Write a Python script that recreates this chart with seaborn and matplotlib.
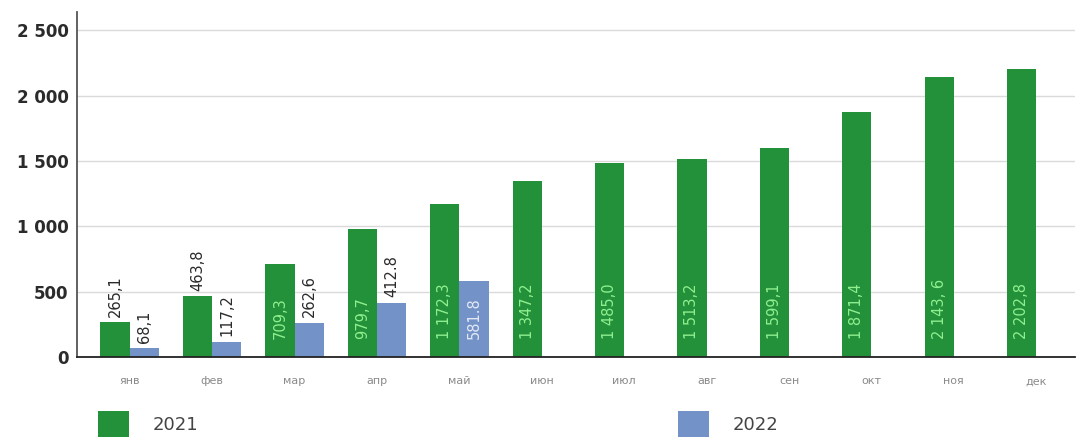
import matplotlib
matplotlib.use("Agg")
import matplotlib.pyplot as plt
from matplotlib.patches import Patch
import seaborn as sns
import pandas as pd

months = ["янв", "фев", "мар", "апр", "май", "июн", "июл", "авг", "сен", "окт", "ноя", "дек"]
values_2021 = [265.1, 463.8, 709.3, 979.7, 1172.3, 1347.2, 1485.0, 1513.2, 1599.1, 1871.4, 2143.6, 2202.8]
labels_2021 = ["265,1", "463,8", "709,3", "979,7", "1 172,3", "1 347,2", "1 485,0", "1 513,2",
               "1 599,1", "1 871,4", "2 143, 6", "2 202,8"]
months_2022 = ["янв", "фев", "мар", "апр", "май"]
values_2022 = [68.1, 117.2, 262.6, 412.8, 581.8]
labels_2022 = ["68,1", "117,2", "262,6", "412.8", "581.8"]
years = ["2021", "2022"]
yticks = [0, 500, 1000, 1500, 2000, 2500]
ytick_labels = ["0", "500", "1 000", "1 500", "2 000", "2 500"]

GREEN = "#23903a"
BLUE = "#7393c8"

df = pd.DataFrame({
    "month": months + months_2022,
    "value": values_2021 + values_2022,
    "year": [years[0]] * len(months) + [years[1]] * len(months_2022),
})

sns.set_theme(style="white")
plt.rcParams["font.family"] = ["DejaVu Sans"]

fig = plt.figure(figsize=(10.78, 4.38), dpi=100)
ax = fig.add_axes([77 / 1078, 81 / 438, 998 / 1078, 345 / 438])

sns.barplot(data=df, x="month", y="value", hue="year", order=months, hue_order=years,
            palette=[GREEN, BLUE], width=0.71, gap=0, dodge=True, saturation=1,
            legend=False, ax=ax, errorbar=None, linewidth=0)

ax.set_xlim(-0.64, 11.47)
ax.set_ylim(0, 2640)
ax.set_yticks(yticks)
ax.set_yticklabels(ytick_labels, fontsize=12, fontweight="bold", color="#2b2b2b")
ax.tick_params(axis="y", length=0, pad=6)
ax.tick_params(axis="x", length=0, pad=14, labelsize=8, labelcolor="#8a8a8a")
ax.set_xlabel("")
ax.set_ylabel("")
ax.yaxis.grid(True, color="#dadada", lw=1)
ax.set_axisbelow(True)
for s in ["top", "right"]:
    ax.spines[s].set_visible(False)
ax.spines["left"].set_color("#555555")
ax.spines["left"].set_linewidth(1.3)
ax.spines["bottom"].set_color("#222222")
ax.spines["bottom"].set_linewidth(1.3)

label_sets = [labels_2021, labels_2022]
inside_colors = ["#8ff08f", "#e4e8f4"]
for ci, cont in enumerate(ax.containers):
    bars = [b for b in cont if b.get_height() > 0]
    for bar, lab in zip(bars, label_sets[ci]):
        h = bar.get_height()
        xc = bar.get_x() + bar.get_width() / 2
        if h >= 550:
            ax.annotate(lab, (xc, 0), xytext=(0, 13), textcoords="offset points",
                        rotation=90, ha="center", va="bottom", fontsize=10.5,
                        color=inside_colors[ci])
        else:
            ax.annotate(lab, (xc, h), xytext=(0, 4), textcoords="offset points",
                        rotation=90, ha="center", va="bottom", fontsize=10.5,
                        color="#2a2a2a")

handles = [Patch(facecolor=GREEN, edgecolor="none"), Patch(facecolor=BLUE, edgecolor="none")]
fig.legend(handles, years, loc="center left", bbox_to_anchor=(98 / 1078, 1 - 424 / 438),
           ncol=2, frameon=False, fontsize=13, handlelength=1.7, handleheight=1.8,
           handletextpad=1.3, columnspacing=26.6, borderpad=0, borderaxespad=0,
           labelcolor="#444444")

fig.savefig("out.png", dpi=100)
